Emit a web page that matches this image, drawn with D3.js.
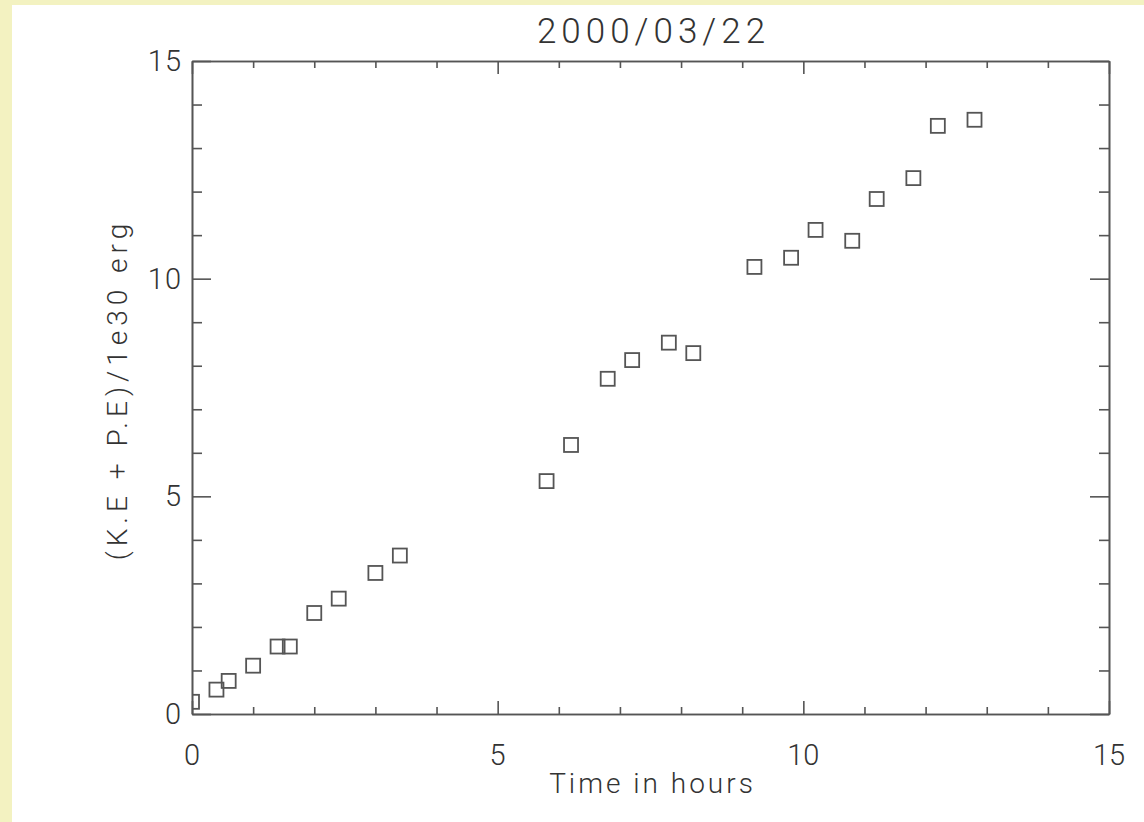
<!DOCTYPE html>
<html>
<head>
<meta charset="utf-8">
<script src="https://cdn.jsdelivr.net/npm/d3@7"></script>
<style>
body { margin:0; padding:0; background:#ffffff; }
svg { display:block; }
text { font-family:Roboto, 'Liberation Sans', sans-serif; font-weight:300; fill:#333333; }
</style>
</head>
<body>
<script>

// data
var hours = [0, 0.4, 0.6, 1.0, 1.4, 1.6, 2.0, 2.4, 3.0, 3.4, 5.8, 6.2, 6.8, 7.2, 7.8, 8.2, 9.2, 9.8, 10.2, 10.8, 11.2, 11.8, 12.2, 12.8];
var energy = [0.28, 0.56, 0.76, 1.11, 1.55, 1.55, 2.32, 2.65, 3.24, 3.64, 5.35, 6.18, 7.70, 8.13, 8.53, 8.29, 10.27, 10.48, 11.12, 10.87, 11.83, 12.31, 13.51, 13.65];
var xMajorTicks = [0, 5, 10, 15];
var xMinorTicks = [1, 2, 3, 4, 6, 7, 8, 9, 11, 12, 13, 14];
var yMajorTicks = [0, 5, 10, 15];
var yMinorTicks = [1, 2, 3, 4, 6, 7, 8, 9, 11, 12, 13, 14];
var titleText = '2000/03/22';
var xLabelText = 'Time in hours';
var yLabelText = '(K.E + P.E)/1e30 erg';

// canvas
var canvasWidth = 1144;
var canvasHeight = 822;
var colorYellow = '#f3f2c1';
var colorAxis = '#555555';
var colorMark = '#555555';

var plotLeft = 192;
var plotRight = 1109;
var plotTop = 61;
var plotBottom = 714;

var svg = d3.select('body').append('svg')
            .attr('width',canvasWidth)
            .attr('height',canvasHeight);

// yellow page border
svg.append('rect')
   .attr('x',0).attr('y',0)
   .attr('width',canvasWidth).attr('height',canvasHeight)
   .attr('fill',colorYellow);
svg.append('rect')
   .attr('x',12).attr('y',5)
   .attr('width',canvasWidth-12).attr('height',canvasHeight-5)
   .attr('fill','#ffffff');

var x = d3.scaleLinear().domain([0,15]).range([plotLeft,plotRight]);
var y = d3.scaleLinear().domain([0,15]).range([plotBottom,plotTop]);

// axes, IDL style: ticks inside on all four sides
var xBottom = d3.axisTop(x).tickValues(xMajorTicks).tickSize(13).tickFormat('');
var xBottomMinor = d3.axisTop(x).tickValues(xMinorTicks).tickSize(7).tickFormat('');
var xTop = d3.axisBottom(x).tickValues(xMajorTicks).tickSize(13).tickFormat('');
var xTopMinor = d3.axisBottom(x).tickValues(xMinorTicks).tickSize(7).tickFormat('');
var yLeft = d3.axisRight(y).tickValues(yMajorTicks).tickSize(19).tickFormat('');
var yLeftMinor = d3.axisRight(y).tickValues(yMinorTicks).tickSize(10).tickFormat('');
var yRight = d3.axisLeft(y).tickValues(yMajorTicks).tickSize(19).tickFormat('');
var yRightMinor = d3.axisLeft(y).tickValues(yMinorTicks).tickSize(10).tickFormat('');

function drawAxis(axis, tx, ty) {
  var g = svg.append('g')
             .attr('transform','translate('+tx+','+ty+')')
             .call(axis.tickSizeOuter(0));
  g.selectAll('path,line')
   .attr('stroke',colorAxis)
   .attr('stroke-width',1.6);
  return g;
}

drawAxis(xBottom,0,plotBottom);
drawAxis(xBottomMinor,0,plotBottom);
drawAxis(xTop,0,plotTop);
drawAxis(xTopMinor,0,plotTop);
drawAxis(yLeft,plotLeft,0);
drawAxis(yLeftMinor,plotLeft,0);
drawAxis(yRight,plotRight,0);
drawAxis(yRightMinor,plotRight,0);

// tick labels
svg.selectAll('.xlabel')
   .data(xMajorTicks)
   .enter().append('text')
   .attr('x',function(d){ return x(d); })
   .attr('y',plotBottom+51)
   .attr('text-anchor','middle')
   .style('font-size','29px')
   .text(function(d){ return d; });

svg.selectAll('.ylabel')
   .data(yMajorTicks)
   .enter().append('text')
   .attr('x',plotLeft-10)
   .attr('y',function(d){ return y(d)+10; })
   .attr('text-anchor','end')
   .style('font-size','29px')
   .style('letter-spacing','1px')
   .text(function(d){ return d; });

// titles
svg.append('text')
   .attr('x',(plotLeft+plotRight)/2+3)
   .attr('y',43)
   .attr('text-anchor','middle')
   .style('font-size','35px')
   .style('letter-spacing','5px')
   .text(titleText);

svg.append('text')
   .attr('x',(plotLeft+plotRight)/2+2)
   .attr('y',793)
   .attr('text-anchor','middle')
   .style('font-size','28px')
   .style('letter-spacing','3px')
   .text(xLabelText);

svg.append('text')
   .attr('transform','translate(127,'+((plotTop+plotBottom)/2+2)+') rotate(-90)')
   .attr('text-anchor','middle')
   .style('font-size','28px')
   .style('letter-spacing','5px')
   .text(yLabelText);

// points
svg.append('clipPath')
   .attr('id','plotClip')
   .append('rect')
   .attr('x',plotLeft).attr('y',plotTop)
   .attr('width',plotRight-plotLeft).attr('height',plotBottom-plotTop);

var side = 14;
svg.append('g')
   .attr('clip-path','url(#plotClip)')
   .selectAll('rect')
   .data(hours)
   .enter().append('rect')
   .attr('x',function(d){ return x(d)-side/2; })
   .attr('y',function(d,i){ return y(energy[i])-side/2; })
   .attr('width',side)
   .attr('height',side)
   .attr('fill','none')
   .attr('stroke',colorMark)
   .attr('stroke-width',1.8);

</script>
</body>
</html>
